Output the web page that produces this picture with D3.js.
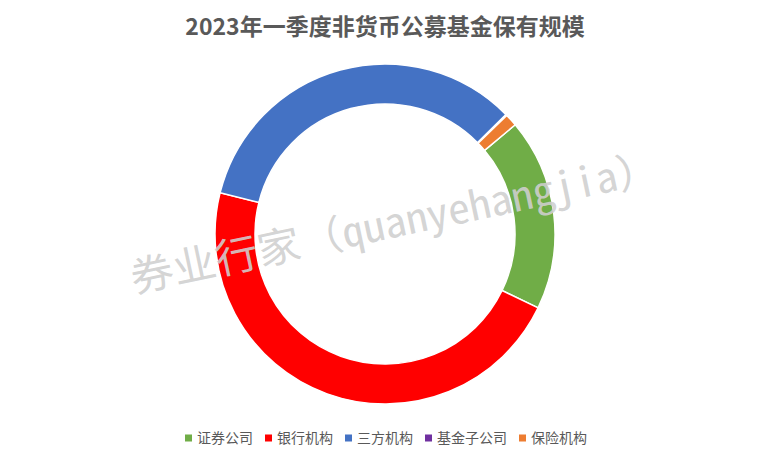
<!DOCTYPE html>
<html><head><meta charset="utf-8">
<script src="https://cdn.jsdelivr.net/npm/d3@7"></script>
<style>html,body{margin:0;padding:0;background:#fff;}svg{display:block;}</style>
</head><body>
<svg id="c" width="772" height="463"></svg>
<script>
const title = "2023年一季度非货币公募基金保有规模";
const categories = ["证券公司", "银行机构", "三方机构", "基金子公司", "保险机构"];
const values = [1516, 3880, 2797, 8, 98];
const colors = ["#70AD47", "#FF0000", "#4472C4", "#7030A0", "#ED7D31"];
const watermark = "券业行家（quanyehangjia）";

const W = 772, H = 463;
const svg = d3.select("#c");
const cx = 385, cy = 234, rOuter = 170, rInner = 130;
const startDeg = 50;

svg.append("text")
  .attr("x", 385).attr("y", 35)
  .attr("text-anchor", "middle")
  .style("font-family", "'Noto Sans CJK SC', 'Noto Sans', sans-serif")
  .style("font-weight", "bold")
  .style("font-size", "23px")
  .style("fill", "#595959")
  .text(title);

const pie = d3.pie().sort(null)
  .startAngle(startDeg * Math.PI / 180)
  .endAngle((startDeg + 360) * Math.PI / 180);
const arc = d3.arc().innerRadius(rInner).outerRadius(rOuter);

const g = svg.append("g").attr("transform", `translate(${cx},${cy})`);
g.selectAll("path").data(pie(values)).join("path")
  .attr("d", arc)
  .attr("fill", (d, i) => colors[i])
  .attr("stroke", "#fff")
  .attr("stroke-width", 1.5);

// legend
const leg = svg.append("g");
let x = 185;
const ly = 438;
categories.forEach((c, i) => {
  leg.append("rect").attr("x", x).attr("y", ly - 3.5).attr("width", 7).attr("height", 7).attr("fill", colors[i]);
  const t = leg.append("text").attr("x", x + 12).attr("y", ly + 5)
    .style("font-family", "'Noto Sans CJK SC', sans-serif")
    .style("font-size", "14px").style("fill", "#595959").text(c);
  const w = t.node().getComputedTextLength();
  x = x + 12 + w + 12;
});

// watermark
svg.append("text")
  .attr("transform", "translate(134,293) rotate(-12)")
  .attr("textLength", 540).attr("lengthAdjust", "spacingAndGlyphs")
  .style("font-family", "'Noto Sans Mono CJK SC', 'Noto Sans CJK SC', monospace")
  .style("font-weight", "300")
  .style("font-size", "41px")
  .style("fill", "#cfcfcf")
  .style("fill-opacity", 0.9)
  .text(watermark);
</script>
</body></html>
